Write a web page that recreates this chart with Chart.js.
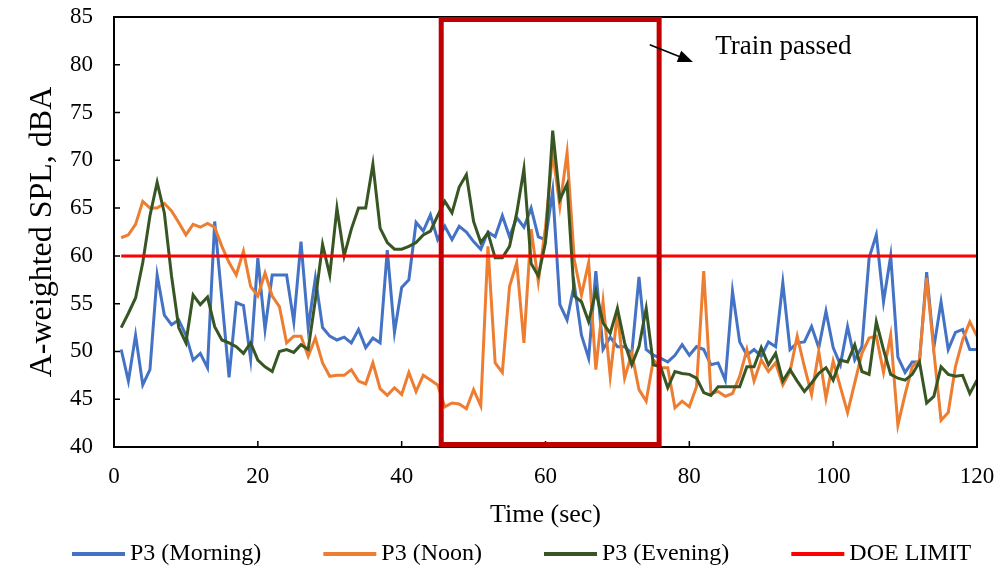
<!DOCTYPE html>
<html>
<head>
<meta charset="utf-8">
<script src="https://cdn.jsdelivr.net/npm/chart.js@4.4.1/dist/chart.umd.min.js"></script>
<style>
  body { margin: 0; background: #fff; }
  #wrap { width: 998px; height: 571px; }
</style>
</head>
<body>
<div id="wrap"><canvas id="myChart"></canvas></div>
<script>
// time in seconds
const seconds = [1,2,3,4,5,6,7,8,9,10,11,12,13,14,15,16,17,18,19,20,
  21,22,23,24,25,26,27,28,29,30,31,32,33,34,35,36,37,38,39,40,
  41,42,43,44,45,46,47,48,49,50,51,52,53,54,55,56,57,58,59,60,
  61,62,63,64,65,66,67,68,69,70,71,72,73,74,75,76,77,78,79,80,
  81,82,83,84,85,86,87,88,89,90,91,92,93,94,95,96,97,98,99,100,
  101,102,103,104,105,106,107,108,109,110,111,112,113,114,115,116,117,118,119,120];

const morning = [50.2,46.9,51.7,46.5,48.1,58.0,53.8,52.8,53.3,51.7,49.1,49.8,48.3,63.6,55.5,47.3,55.1,54.8,49.2,59.8,
  52.3,58.0,58.0,58.0,53.1,61.5,52.5,57.7,52.5,51.6,51.2,51.5,50.9,52.3,50.4,51.4,50.9,60.6,52.0,56.7,
  57.5,63.5,62.6,64.3,61.7,63.1,61.7,63.1,62.5,61.5,60.7,62.5,62.0,64.2,62.0,64.0,63.0,65.0,62.0,61.7,
  66.8,54.9,53.3,57.0,51.7,49.3,58.4,50.2,51.5,50.5,50.5,49.8,57.8,50.2,49.6,49.3,48.9,49.6,50.7,49.6,
  50.5,50.2,48.6,48.8,47.0,56.3,51.0,49.6,50.2,49.5,51.0,50.5,57.2,50.2,50.9,51.0,52.6,50.4,54.2,50.4,
  48.6,52.6,49.1,50.5,59.8,62.2,55.2,60.0,49.4,47.8,48.9,48.9,58.3,50.4,55.2,50.2,52.0,52.3,50.2,50.2];

const noon = [61.9,62.2,63.3,65.7,65.0,65.0,65.5,64.7,63.5,62.2,63.3,63.0,63.4,63.0,61.0,59.3,58.0,60.5,56.8,55.8,
  58.2,55.8,54.7,50.9,51.6,51.6,49.5,51.4,48.8,47.4,47.5,47.5,48.1,46.9,46.6,48.8,46.1,45.4,46.2,45.5,
  47.8,45.8,47.5,47.0,46.5,44.2,44.6,44.5,44.0,46.0,44.3,61.0,48.8,47.8,56.8,59.3,50.9,62.8,57.3,63.0,
  70.8,65.2,70.8,59.6,55.9,59.3,48.1,55.2,47.4,54.0,47.2,49.8,46.0,44.8,49.1,48.3,48.3,44.1,44.8,44.2,
  46.3,58.4,45.6,45.8,45.3,45.6,47.4,50.2,46.9,49.1,47.9,48.8,46.5,47.9,51.6,48.4,45.5,50.0,45.1,49.0,
  46.3,43.6,46.7,49.8,51.4,51.6,47.8,51.7,42.3,45.5,48.4,49.1,57.7,50.0,42.8,43.6,48.4,51.2,53.1,51.6];

const evening = [52.5,54.0,55.6,59.3,64.2,67.7,64.5,57.9,52.5,50.9,55.9,54.9,55.7,52.6,51.2,50.9,50.5,49.8,50.9,49.1,
  48.4,47.9,50.0,50.2,49.9,50.7,50.2,55.4,61.2,58.0,65.0,60.0,62.8,65.0,65.0,69.6,62.9,61.4,60.7,60.7,
  61.0,61.4,62.2,62.6,64.2,65.7,64.5,67.2,68.5,63.6,61.4,62.4,59.8,59.8,61.0,64.5,69.1,59.2,57.9,61.4,
  73.1,65.9,67.5,55.8,55.2,53.1,56.3,53.0,51.9,54.5,50.9,48.6,50.5,54.5,48.6,48.4,46.2,47.9,47.7,47.6,
  47.2,45.7,45.4,46.3,46.3,46.3,46.3,48.4,48.4,50.4,48.6,49.8,46.9,48.1,46.9,45.8,46.7,47.7,48.3,47.0,
  49.1,48.9,50.7,47.9,47.6,53.1,50.2,47.6,47.2,47.0,47.6,48.9,44.6,45.3,48.4,47.6,47.4,47.5,45.6,47.0];

const doeLimit = 60;

// train window drawn as a box, in axis units
const trainStart = 45.5;
const trainEnd = 75.8;
const trainLow = 40.26;
const trainHigh = 84.74;

const xTicks = [0, 20, 40, 60, 80, 100, 120];
const yTicks = [40, 45, 50, 55, 60, 65, 70, 75, 80, 85];

const FONT = '"Liberation Serif", "Times New Roman", serif';

function points(values) {
  return values.map((v, i) => ({ x: seconds[i], y: v }));
}

const data = {
  datasets: [
    { label: 'P3 (Morning)', data: points(morning), borderColor: '#4472C4', order: 3 },
    { label: 'P3 (Noon)', data: points(noon), borderColor: '#ED7D31', order: 2 },
    { label: 'P3 (Evening)', data: points(evening), borderColor: '#375623', order: 1 },
    { label: 'DOE LIMIT', data: [{ x: seconds[0], y: doeLimit }, { x: seconds[seconds.length - 1], y: doeLimit }],
      borderColor: '#FF0000', order: 0 }
  ]
};
data.datasets.forEach(ds => {
  ds.borderWidth = 3;
  ds.pointRadius = 0;
  ds.tension = 0;
  ds.fill = false;
  ds.backgroundColor = ds.borderColor;
});

// frame, inner ticks, train box, arrow note and legend
const extras = {
  id: 'extras',
  afterDatasetsDraw(chart) {
    const ctx = chart.ctx;
    const xs = chart.scales.x, ys = chart.scales.y;
    const a = chart.chartArea;
    ctx.save();
    // frame top and right
    ctx.strokeStyle = '#000';
    ctx.lineWidth = 2;
    ctx.beginPath();
    ctx.moveTo(a.left, a.top); ctx.lineTo(a.right, a.top); ctx.lineTo(a.right, a.bottom);
    ctx.stroke();
    // inward tick marks
    ctx.lineWidth = 1.5;
    ctx.beginPath();
    yTicks.forEach(v => {
      const y = ys.getPixelForValue(v);
      ctx.moveTo(a.left, y); ctx.lineTo(a.left + 6, y);
    });
    xTicks.forEach(v => {
      const x = xs.getPixelForValue(v);
      ctx.moveTo(x, a.bottom); ctx.lineTo(x, a.bottom - 6);
    });
    ctx.stroke();

    // train box
    ctx.strokeStyle = '#C00000';
    ctx.lineWidth = 5;
    const bx = xs.getPixelForValue(trainStart), bx2 = xs.getPixelForValue(trainEnd);
    const by = ys.getPixelForValue(trainHigh), by2 = ys.getPixelForValue(trainLow);
    ctx.strokeRect(bx, by, bx2 - bx, by2 - by);

    // arrow + note
    const x1 = xs.getPixelForValue(74.5), y1 = ys.getPixelForValue(82.1);
    const x2 = xs.getPixelForValue(80.5), y2 = ys.getPixelForValue(80.3);
    const ang = Math.atan2(y2 - y1, x2 - x1);
    ctx.strokeStyle = '#000';
    ctx.fillStyle = '#000';
    ctx.lineWidth = 1.5;
    ctx.beginPath();
    ctx.moveTo(x1, y1);
    ctx.lineTo(x2 - 12 * Math.cos(ang), y2 - 12 * Math.sin(ang));
    ctx.stroke();
    ctx.beginPath();
    ctx.moveTo(x2, y2);
    ctx.lineTo(x2 - 15 * Math.cos(ang) + 6 * Math.sin(ang), y2 - 15 * Math.sin(ang) - 6 * Math.cos(ang));
    ctx.lineTo(x2 - 15 * Math.cos(ang) - 6 * Math.sin(ang), y2 - 15 * Math.sin(ang) + 6 * Math.cos(ang));
    ctx.closePath();
    ctx.fill();
    ctx.font = '27px ' + FONT;
    ctx.textAlign = 'left';
    ctx.textBaseline = 'middle';
    ctx.fillText('Train passed', xs.getPixelForValue(83.6), ys.getPixelForValue(81.9));
    ctx.restore();
  },
  afterDraw(chart) {
    const ctx = chart.ctx;
    ctx.save();
    ctx.font = '24px ' + FONT;
    ctx.textBaseline = 'middle';
    ctx.textAlign = 'left';
    let x = 72;
    const y = 554;
    chart.data.datasets.forEach(ds => {
      ctx.strokeStyle = ds.borderColor;
      ctx.lineWidth = 4;
      ctx.beginPath();
      ctx.moveTo(x, y); ctx.lineTo(x + 53, y);
      ctx.stroke();
      ctx.fillStyle = '#000';
      ctx.fillText(ds.label, x + 58, y);
      x += 58 + ctx.measureText(ds.label).width + 62;
    });
    ctx.restore();
  }
};

const config = {
  type: 'line',
  data: data,
  options: {
    responsive: true,
    maintainAspectRatio: false,
    animation: false,
    devicePixelRatio: 1,
    layout: { padding: { top: 17, right: 21, left: 0, bottom: 0 } },
    plugins: {
      legend: { display: false },
      tooltip: { enabled: false }
    },
    scales: {
      x: {
        type: 'linear',
        min: 0,
        max: 120,
        afterBuildTicks: s => { s.ticks = xTicks.map(v => ({ value: v })); },
        afterFit: s => { s.height = 124; s.paddingLeft = 0; s.paddingRight = 0; },
        grid: { display: false, drawTicks: false },
        border: { display: true, color: '#000', width: 2 },
        ticks: { color: '#000', font: { family: FONT, size: 23 }, padding: 16, maxRotation: 0 },
        title: { display: true, text: 'Time (sec)', color: '#000', font: { family: FONT, size: 26 },
          padding: { top: 0, bottom: 40 } }
      },
      y: {
        min: 40,
        max: 85,
        afterBuildTicks: s => { s.ticks = yTicks.map(v => ({ value: v })); },
        afterFit: s => { s.width = 114; s.paddingTop = 0; s.paddingBottom = 0; },
        grid: { display: false, drawTicks: false },
        border: { display: true, color: '#000', width: 2 },
        ticks: { color: '#000', font: { family: FONT, size: 23 }, padding: 21 },
        title: { display: true, text: 'A-weighted SPL, dBA', color: '#000', font: { family: FONT, size: 32 },
          padding: { top: 23, bottom: 0 } }
      }
    }
  },
  plugins: [extras]
};

const myChart = new Chart(document.getElementById('myChart'), config);
</script>
</body>
</html>
